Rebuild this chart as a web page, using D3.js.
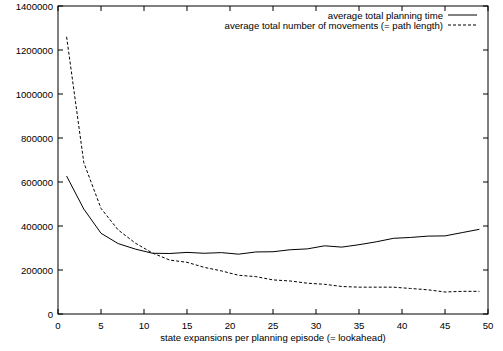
<!DOCTYPE html>
<html><head><meta charset="utf-8">
<script src="https://cdn.jsdelivr.net/npm/d3@7"></script>
<style>body{margin:0;background:#fff}svg{display:block}text{font-family:"Liberation Sans",Arial,sans-serif;font-size:9.6px;fill:#000}</style>
</head><body>
<script>
const lookahead = [1,3,5,7,9,11,13,15,17,19,21,23,25,27,29,31,33,35,37,39,41,43,45,47,49];
const planningTime = [627000,477000,367000,320000,295000,276000,275000,280000,276000,279000,272000,282000,283000,292000,296000,310000,304000,315000,328000,344000,348000,354000,355000,370000,385000];
const movements = [1260000,688000,480000,382000,322000,277000,245000,235000,212000,196000,176000,170000,155000,150000,140000,135000,125000,122000,122000,122000,116000,110000,100000,103000,103000];
const xTicks = [0,5,10,15,20,25,30,35,40,45,50];
const yTicks = [0,200000,400000,600000,800000,1000000,1200000,1400000];
const seriesNames = ["average total planning time","average total number of movements (= path length)"];

const W=503,H=351;
const L=58,R=488,T=6,B=314;
const svg=d3.select("body").append("svg").attr("width",W).attr("height",H);
const x=d3.scaleLinear().domain([0,50]).range([L,R]);
const y=d3.scaleLinear().domain([0,1400000]).range([B,T]);

const g=svg.append("g");
xTicks.forEach(v=>{
  g.append("line").attr("x1",x(v)).attr("x2",x(v)).attr("y1",B).attr("y2",B-5).attr("stroke","#000");
  g.append("line").attr("x1",x(v)).attr("x2",x(v)).attr("y1",T).attr("y2",T+5).attr("stroke","#000");
  g.append("text").attr("x",x(v)).attr("y",B+15).attr("text-anchor","middle").text(v);
});
yTicks.forEach(v=>{
  g.append("line").attr("x1",L).attr("x2",L+5).attr("y1",y(v)).attr("y2",y(v)).attr("stroke","#000");
  g.append("line").attr("x1",R).attr("x2",R-5).attr("y1",y(v)).attr("y2",y(v)).attr("stroke","#000");
  g.append("text").attr("x",L-5).attr("y",y(v)+3.5).attr("text-anchor","end").text(v);
});
g.append("rect").attr("x",L).attr("y",T).attr("width",R-L).attr("height",B-T).attr("fill","none").attr("stroke","#000");

const line=d3.line().x((d,i)=>x(lookahead[i])).y(d=>y(d));
svg.append("path").datum(planningTime).attr("d",line).attr("fill","none").attr("stroke","#000").attr("stroke-width",1);
svg.append("path").datum(movements).attr("d",line).attr("fill","none").attr("stroke","#000").attr("stroke-width",1).attr("stroke-dasharray","3,2");

const lg=svg.append("g");
seriesNames.forEach((n,i)=>{
  const yy=15+i*10;
  lg.append("text").attr("x",443).attr("y",yy+3.5).attr("text-anchor","end").text(n);
  lg.append("line").attr("x1",448).attr("x2",477).attr("y1",yy).attr("y2",yy).attr("stroke","#000")
    .attr("stroke-dasharray",i?"3,2":null);
});

svg.append("text").attr("x",(L+R)/2).attr("y",341).attr("text-anchor","middle").text("state expansions per planning episode (= lookahead)");
</script>
</body></html>
